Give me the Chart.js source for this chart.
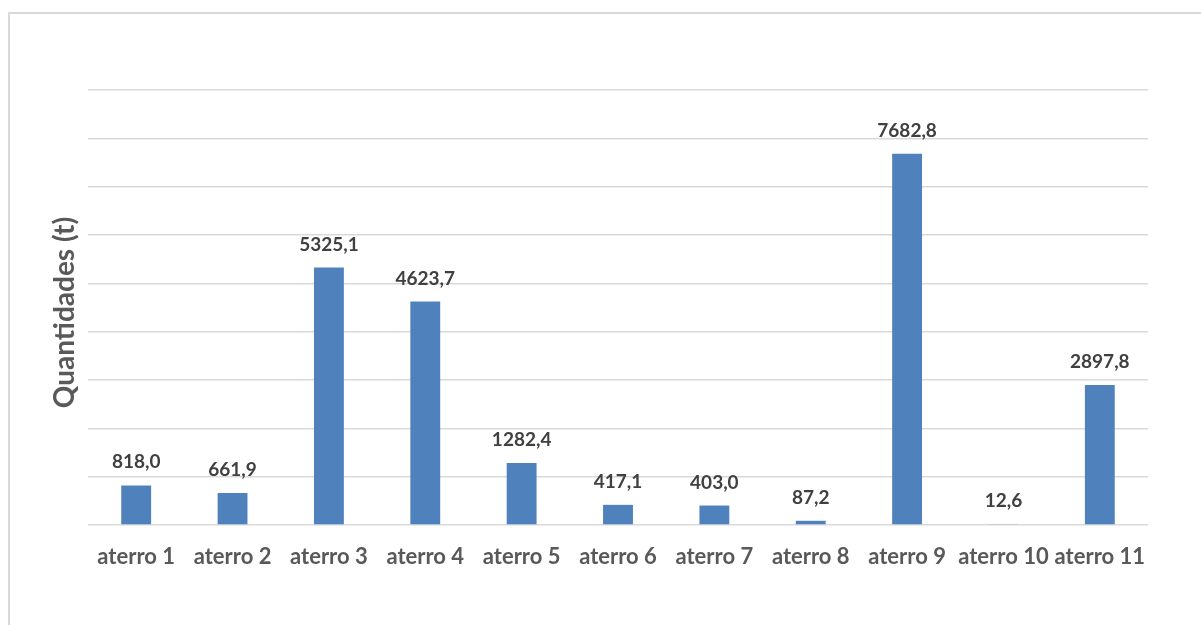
<!DOCTYPE html>
<html>
<head>
<meta charset="utf-8">
<script src="https://cdn.jsdelivr.net/npm/chart.js@4.4.1/dist/chart.umd.min.js"></script>
<style>
  html, body { margin: 0; padding: 0; background: #ffffff; }
  #wrap { width: 1201px; height: 625px; position: relative; }
</style>
</head>
<body>
<div id="wrap"><canvas id="chart" width="1201" height="625"></canvas></div>
<script>
// Landfill sites and the quantities received at each (tonnes)
const categories = ['aterro 1', 'aterro 2', 'aterro 3', 'aterro 4', 'aterro 5', 'aterro 6',
                    'aterro 7', 'aterro 8', 'aterro 9', 'aterro 10', 'aterro 11'];
const quantities = [818.0, 661.9, 5325.1, 4623.7, 1282.4, 417.1, 403.0, 87.2, 7682.8, 12.6, 2897.8];
const axisTitle = 'Quantidades (t)';
const yMax = 9000;
const yStep = 1000;

const FONT = 'Lato, "Open Sans", sans-serif';

// Light frame around the chart
const framePlugin = {
  id: 'frame',
  beforeDraw(chart) {
    const ctx = chart.ctx;
    ctx.save();
    ctx.fillStyle = '#ffffff';
    ctx.fillRect(0, 0, chart.width, chart.height);
    ctx.strokeStyle = '#d9d9d9';
    ctx.lineWidth = 2;
    ctx.strokeRect(9, 13, chart.width + 20, chart.height + 20);
    ctx.restore();
  }
};

// Rotated axis title on the left
const axisTitlePlugin = {
  id: 'axisTitle',
  afterDraw(chart) {
    const ctx = chart.ctx;
    const area = chart.chartArea;
    ctx.save();
    ctx.translate(65, (area.top + area.bottom) / 2 + 5);
    ctx.rotate(-Math.PI / 2);
    ctx.font = 'bold 28px ' + FONT;
    ctx.fillStyle = '#595959';
    ctx.textAlign = 'center';
    ctx.textBaseline = 'middle';
    ctx.fillText(axisTitle, 0, 0);
    ctx.restore();
  }
};

// Value labels above each bar, written with a decimal comma
const valueLabelPlugin = {
  id: 'valueLabels',
  afterDatasetsDraw(chart) {
    const ctx = chart.ctx;
    const meta = chart.getDatasetMeta(0);
    ctx.save();
    ctx.font = 'bold 19px ' + FONT;
    ctx.fillStyle = '#404040';
    ctx.textAlign = 'center';
    ctx.textBaseline = 'alphabetic';
    meta.data.forEach((bar, i) => {
      const txt = quantities[i].toFixed(1).replace('.', ',');
      ctx.fillText(txt, bar.x, bar.y - 17);
    });
    ctx.restore();
  }
};

new Chart(document.getElementById('chart'), {
  type: 'bar',
  data: {
    labels: categories,
    datasets: [{
      data: quantities,
      backgroundColor: '#4f81bd',
      borderWidth: 0,
      categoryPercentage: 1.0,
      barPercentage: 0.31
    }]
  },
  options: {
    responsive: false,
    animation: false,
    events: [],
    layout: { padding: { left: 0, top: 90, right: 53, bottom: 0 } },
    plugins: {
      legend: { display: false },
      tooltip: { enabled: false },
      title: { display: false }
    },
    scales: {
      x: {
        grid: { display: false, drawTicks: false },
        border: { display: false },
        ticks: {
          color: '#595959',
          font: { family: FONT, size: 22, weight: 'bold' },
          padding: 19,
          maxRotation: 0,
          autoSkip: false
        },
        afterFit(scale) { scale.height = 100; }
      },
      y: {
        min: 0,
        max: yMax,
        ticks: { display: false, stepSize: yStep },
        grid: { color: '#d9d9d9', lineWidth: 1.5, drawTicks: false },
        border: { display: false },
        afterFit(scale) { scale.width = 88; }
      }
    }
  },
  plugins: [framePlugin, axisTitlePlugin, valueLabelPlugin]
});
</script>
</body>
</html>
